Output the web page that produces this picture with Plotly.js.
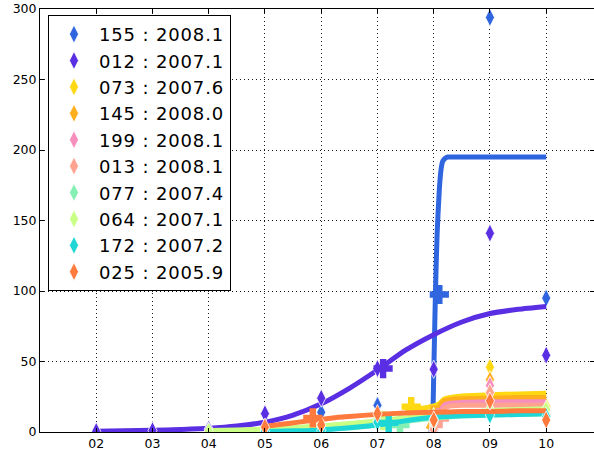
<!DOCTYPE html>
<html>
<head>
<meta charset="utf-8">
<script src="https://cdn.plot.ly/plotly-3.0.1.min.js"></script>
<style>
html,body{margin:0;padding:0;background:#fff;}
#chart{width:594px;height:452px;}
.legendtext{letter-spacing:0.85px;}
</style>
</head>
<body>
<div id="chart"></div>
<script>
// Series labels and colours
const names = ["155 : 2008.1","012 : 2007.1","073 : 2007.6","145 : 2008.0","199 : 2008.1",
               "013 : 2008.1","077 : 2007.4","064 : 2007.1","172 : 2007.2","025 : 2005.9"];
const colors = ["#2f66e0","#5a2ee2","#ffd814","#ffae1e","#f78fbd",
                "#ffa290","#84f0b4","#c8ff84","#1ed6d6","#ff7a3c"];

// Observed points (diamonds): x = year index, y = value
const obsX = [
  [5,6,7,8,9,10],
  [2,3,4,5,6,7,8,9,10],
  [8,9,10],
  [8,9,10],
  [8,9,10],
  [8,9,10],
  [5,6,7,8,9,10],
  [4,5,6,7,8,9,10],
  [5,6,7,8,9,10],
  [5,6,7,8,9,10]
];
const obsY = [
  [4,14,19,1,294,95],
  [0.5,1,2,13,24,45,44.5,141,54.5],
  [10,46,18],
  [5,37,13],
  [3,33,11],
  [2,28,12],
  [1,3,6,7,13,11],
  [0.5,2,4,8,11,16,16],
  [0.5,1,7,9,12,11],
  [3.5,5,13,8.5,22,8.5]
];

// Fitted curves
const fitX = [
  [7.95,7.98,8.0,8.03,8.06,8.1,8.13,8.16,8.2,8.25,8.35,8.5,9,9.5,10],
  [2,2.5,3,3.5,4,4.5,5,5.5,6,6.5,7,7.5,8,8.5,9,9.5,10],
  [7.5,7.75,8.0,8.1,8.15,8.2,8.3,8.5,9,9.5,10],
  [7.9,8.0,8.05,8.1,8.15,8.2,8.3,8.5,9,9.5,10],
  [7.95,8.0,8.05,8.1,8.15,8.2,8.3,8.5,9,9.5,10],
  [7.95,8.0,8.05,8.1,8.15,8.2,8.3,8.5,9,9.5,10],
  [5,5.5,6,6.5,7,7.4,7.8,8.2,8.6,9,9.5,10],
  [4,4.5,5,5.5,6,6.5,7,7.5,8,8.5,9,9.5,10],
  [5,5.5,6,6.5,7,7.2,7.5,8,8.5,9,9.5,10],
  [5,5.3,5.6,5.9,6.2,6.5,7,7.5,8,8.5,9,9.5,10]
];
const fitY = [
  [0,8,40,97,140,172,186,192,194,195,195,195,195,195,195],
  [0.5,0.8,1.2,1.8,2.6,4.2,7,12,20,31,44,58,69,78,84,87,89],
  [15,16.5,18.5,20,22,23.5,24.5,25.5,26.5,27,27.5],
  [2,10,14,18,21,22.5,23,23.5,24,24.5,24.5],
  [1,4,8,12,17,19.5,20.5,21,21.5,21.5,21.5],
  [0,3,6,10,14,17,18.5,19,19,19,19],
  [0.5,1,2,3,5,7,9,10.5,11.5,12,12.5,13],
  [1,1.5,2,3,4.5,6,8,10,12,14,15,16,16.5],
  [0.3,0.8,1.5,3,5,6,8,10.5,11.5,12,12.5,13],
  [4,5.5,7,8.5,10,11,12.5,13.5,14,14.5,14.5,15,15]
];

// Midpoint markers (+)
const midX = [8.1,7.1,7.6,8.0,8.1,8.1,7.4,7.1,7.2,5.85];
const midY = [97.5,45,18,12,10,9.5,5,8,6.5,10];

const xTickVals = [2,3,4,5,6,7,8,9,10];
const xTickText = ["02","03","04","05","06","07","08","09","10"];
const yTickVals = [0,50,100,150,200,250,300];

const traces = [];
for (let i = 0; i < names.length; i++) {
  traces.push({
    x: fitX[i], y: fitY[i], type: "scatter", mode: "lines",
    line: {color: colors[i], width: 5, shape: "spline", smoothing: 0.6},
    showlegend: false, legendgroup: "g" + i, hoverinfo: "skip"
  });
  traces.push({
    x: obsX[i], y: obsY[i], type: "scatter", mode: "markers", name: names[i],
    marker: {symbol: "diamond-tall", size: 13, color: colors[i], line: {color: "#ffffff", width: 0.8}},
    legendgroup: "g" + i
  });
  traces.push({
    x: [midX[i]], y: [midY[i]], type: "scatter", mode: "markers",
    marker: {symbol: "cross", size: 16, color: colors[i], line: {width: 0}},
    showlegend: false, legendgroup: "g" + i
  });
}

const axisCommon = {
  showline: true, linecolor: "#000", linewidth: 1, mirror: "ticks",
  ticks: "inside", ticklen: 4, tickcolor: "#000", tickwidth: 1,
  showgrid: true, gridcolor: "rgba(0,0,0,0.9)", gridwidth: 1, griddash: "1px,3px",
  zeroline: false,
  tickfont: {family: "DejaVu Sans", size: 12.5, color: "#000"}
};

const layout = {
  width: 594, height: 452,
  margin: {l: 40, r: 0, t: 9, b: 20, pad: 0},
  paper_bgcolor: "#fff", plot_bgcolor: "#fff",
  showlegend: true,
  xaxis: Object.assign({}, axisCommon, {range: [1, 10.85], tickvals: xTickVals, ticktext: xTickText}),
  yaxis: Object.assign({}, axisCommon, {range: [0, 300], tickvals: yTickVals}),
  legend: {
    x: 0.0144, y: 0.986, xanchor: "left", yanchor: "top",
    bgcolor: "#fff", bordercolor: "#000", borderwidth: 1,
    font: {family: "DejaVu Sans", size: 18, color: "#000"},
    itemwidth: 40, tracegroupgap: 0
  },
  font: {family: "DejaVu Sans"}
};

Plotly.newPlot("chart", traces, layout, {displayModeBar: false, staticPlot: true});
</script>
</body>
</html>
